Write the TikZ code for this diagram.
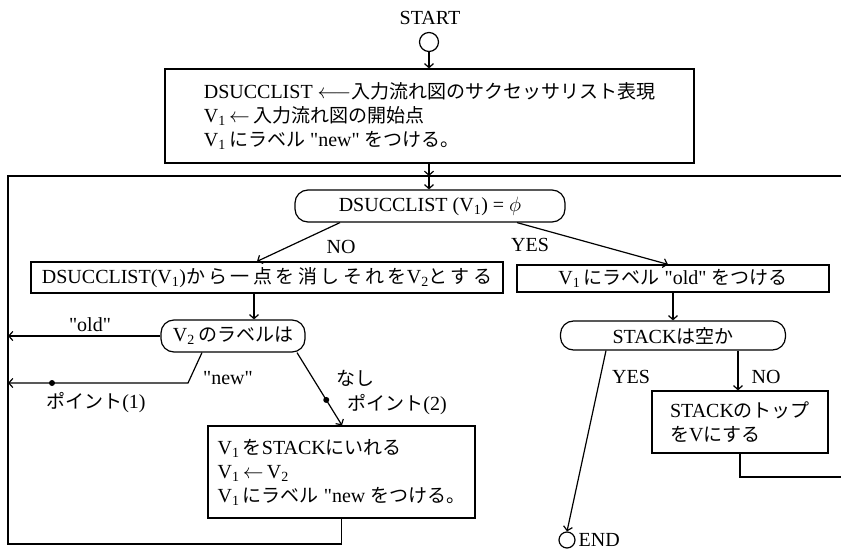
\documentclass[tikz,border=0pt]{standalone}
\usepackage{fontspec}
\setmainfont{Liberation Serif}
\newfontfamily\qfont{Liberation Serif}
\newfontfamily\cjk[Scale=0.95]{Noto Sans CJK JP}
\newfontfamily\cjkw[Scale=0.95,LetterSpace=18]{Noto Sans CJK JP}
\newcommand\J[1]{{\cjk #1}}
\newcommand\JW[1]{{\cjkw #1}}
\newcommand\q{{\qfont"}}
\usetikzlibrary{arrows.meta,calc}
\begin{document}
\begin{tikzpicture}[x=1pt,y=-1pt, line width=1.2pt,
  arr/.style={-{Straight Barb[length=4pt,width=9pt]}},
  box/.style={draw, rectangle, inner sep=0pt},
  dec/.style={draw, rectangle, rounded corners=13pt, inner sep=0pt},
  lbl/.style={inner sep=0pt},
  dot/.style={circle, fill, inner sep=0pt, minimum size=6pt},
  font=\fontsize{20}{24}\selectfont]
\useasboundingbox (0,0) rectangle (841,551);

\node[lbl] (start) at (430,18) {START};
\node[draw,circle,minimum size=19pt,inner sep=0pt] (sc) at (429,42) {};
\node[box, minimum width=529pt, minimum height=94pt, align=left] (b1) at (429.5,116)
  {DSUCCLIST $\longleftarrow$\J{入力流れ図のサクセッサリスト表現}\\
   V\textsubscript{1}\,$\leftarrow$\,\J{入力流れ図の開始点}\\
   V\textsubscript{1}\,\J{にラベル} \q new\q{} \J{をつける。}};
\coordinate (j) at (429,176);
\node[dec, minimum width=270pt, minimum height=32pt] (d1) at (430,206)
  {DSUCCLIST (V\textsubscript{1}) = $\phi$};
\node[box, minimum width=472pt, minimum height=31pt] (b2) at (267,277.5)
  {DSUCCLIST(V\textsubscript{1})\JW{から一点を消しそれを}V\textsubscript{2}\JW{とする}};
\node[box, minimum width=312pt, minimum height=27pt] (b3) at (673,278.5)
  {V\textsubscript{1}\,\J{にラベル} \q old\q{} \J{をつける}};
\node[dec, minimum width=144pt, minimum height=32pt] (d2) at (233,336)
  {V\textsubscript{2}\,\J{のラベルは}};
\node[dec, minimum width=225pt, minimum height=29pt] (d3) at (673,335.5)
  {STACK\J{は空か}};
\node[box, minimum width=267pt, minimum height=92pt, align=left] (b4) at (341.5,472)
  {V\textsubscript{1}\,\J{を}STACK\J{にいれる}\\
   V\textsubscript{1}\,$\leftarrow$\,V\textsubscript{2}\\
   V\textsubscript{1}\,\J{にラベル} \q new \J{をつける。}};
\node[box, minimum width=176pt, minimum height=62pt, align=left] (b5) at (740,422)
  {STACK\J{のトップ}\\ \J{を}V\J{にする}};
\node[draw,circle,minimum size=16pt,inner sep=0pt] (ec) at (567,540) {};
\node[lbl, anchor=west] (endl) at (578,540) {END};

% connectors
\draw[arr] (sc.south) -- (sc.south |- b1.north);
\draw[arr] (b1.south -| j) -- (j);
\draw[arr] (j) -- (j |- d1.north);
\coordinate (bl) at (8,544);
\coordinate (br) at (848,477);
\coordinate (tr) at (848,176);
\draw (b4.south) |- (bl) |- (j);
\draw (b5.south) |- (br) -- (tr) -- (j);

\draw[arr] ($(d1.south)+(-90,0)$) -- ($(b2.north)+(-10,0)$);
\draw[arr] ($(d1.south)+(87,0)$) -- ($(b3.north)+(-5,0)$);
\draw[arr] ($(b2.south)+(-13,0)$) -- ($(d2.north)+(21,0)$);
\draw[arr] (b3.south) -- (d3.north);
\draw[arr] (d2.west) -- (d2.west -| bl);
\coordinate (nk) at (188,383);
\draw[arr] ($(d2.south)+(-31,0)$) -- (nk) -- (nk -| bl);
\node[dot] (p1) at (52,383) {};
\coordinate (na) at ($(d2.south)+(64,0)$);
\coordinate (nb) at ($(b4.north)+(0.5,0)$);
\draw[arr] (na) -- (nb);
\node[dot] (p2) at ($(na)!0.65!(nb)$) {};
\draw[arr] ($(d3.south)+(-67,0)$) -- (ec.north);
\draw[arr] ($(d3.south)+(65,0)$) -- ($(b5.north)+(-2,0)$);

% labels
\node[lbl] (lno) at (341,247) {NO};
\node[lbl] (lyes) at (530,245) {YES};
\node[lbl] (lold) at (90,325) {\q old\q};
\node[lbl] (lnew) at (228,378) {\q new\q};
\node[lbl] (lp1) at (96,403) {\J{ポイント}(1)};
\node[lbl] (lnashi) at (355,378) {\J{なし}};
\node[lbl] (lp2) at (397,405) {\J{ポイント}(2)};
\node[lbl] (lyes2) at (631,377) {YES};
\node[lbl] (lno2) at (766,377) {NO};
\end{tikzpicture}
\end{document}
